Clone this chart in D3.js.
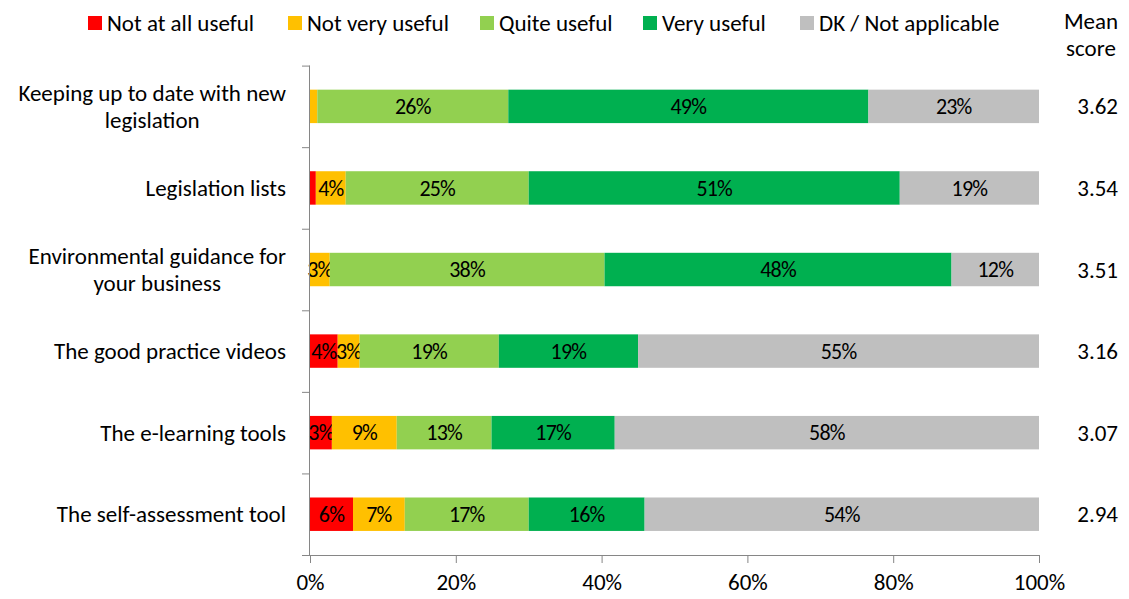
<!DOCTYPE html>
<html>
<head>
<meta charset="utf-8">
<script src="https://cdn.jsdelivr.net/npm/d3@7"></script>
<style>
  body { margin: 0; background: #fff; }
  svg text { font-family: Carlito, Calibri, Lato, sans-serif; fill: #000; }
</style>
</head>
<body>
<svg id="chart" width="1129" height="599"></svg>
<script>
// category labels (lines as wrapped in the original)
const categories = [
    ["Keeping up to date with new", "legislation"],
    ["Legislation lists"],
    ["Environmental guidance for", "your business"],
    ["The good practice videos"],
    ["The e-learning tools"],
    ["The self-assessment  tool"]
];
const seriesNames = ["Not at all useful", "Not very useful", "Quite useful", "Very useful", "DK / Not applicable"];
const seriesColors = ["#ff0000", "#ffc000", "#92d050", "#00b050", "#bfbfbf"];

// percentages per series, one value per category
const notAtAll = [0, 0.8, 0, 3.8, 3.0, 5.9];
const notVery  = [1.0, 4.1, 2.7, 3.0, 8.9, 7.1];
const quite    = [26.2, 25.1, 37.7, 19.1, 13.0, 17.0];
const very     = [49.4, 50.9, 47.6, 19.1, 16.9, 15.9];
const dk       = [23.4, 19.1, 12.0, 55.0, 58.2, 54.1];

const meanScores = ["3.62", "3.54", "3.51", "3.16", "3.07", "2.94"];
const xTicks = [0, 20, 40, 60, 80, 100];

const svg = d3.select("#chart");
const fontSize = 23;

const x = d3.scaleLinear().domain([0, 100]).range([310, 1039]);
const y = d3.scaleBand()
    .domain(d3.range(categories.length))
    .range([65.6, 555])
    .paddingInner(0.59)
    .paddingOuter(0.295);

const seriesValues = [notAtAll, notVery, quite, very, dk];
const rows = categories.map((c, i) => {
    const r = { i };
    seriesValues.forEach((s, k) => r[k] = s[i]);
    return r;
});
const stacked = d3.stack().keys(d3.range(seriesNames.length))(rows);

// bars
const layers = svg.append("g").selectAll("g")
    .data(stacked)
    .enter()
    .append("g")
    .attr("fill", (d, k) => seriesColors[k]);

layers.selectAll("rect")
    .data(d => d)
    .enter()
    .append("rect")
    .attr("x", d => x(d[0]))
    .attr("y", d => y(d.data.i))
    .attr("width", d => x(d[1]) - x(d[0]))
    .attr("height", y.bandwidth());

// value labels (tight spacing, the small ones sit next to each other)
layers.selectAll("text")
    .data(d => d.filter(p => p[1] - p[0] >= 2.5))
    .enter()
    .append("text")
    .attr("x", d => (x(d[0]) + x(d[1])) / 2)
    .attr("y", d => y(d.data.i) + y.bandwidth() / 2)
    .attr("dy", "0.35em")
    .attr("text-anchor", "middle")
    .attr("font-size", 22)
    .attr("letter-spacing", -0.8)
    .text(d => Math.round(d[1] - d[0]) + "%");

// x axis
const xAxis = svg.append("g")
    .attr("transform", "translate(0,555)")
    .call(d3.axisBottom(x).tickValues(xTicks).tickSize(8).tickPadding(11).tickFormat(d => d + "%"));
xAxis.selectAll("text").attr("font-size", fontSize).attr("font-family", null);
xAxis.select(".domain").attr("d", "M302,0.5H1039").attr("stroke", "#868686");
xAxis.selectAll(".tick line").attr("stroke", "#868686");

// y axis: ticks at category boundaries
const yEdges = d3.scaleLinear().domain([0, categories.length]).range([65.6, 555]);
const yAxis = svg.append("g")
    .attr("transform", "translate(310,0)")
    .call(d3.axisLeft(yEdges).tickValues(d3.range(categories.length + 1)).tickSize(8).tickFormat(""));
yAxis.select(".domain").attr("d", "M-0.5,65.6V555").attr("stroke", "#868686");
yAxis.selectAll(".tick line").attr("stroke", "#868686");

// category labels
const labelRight = 286;
const lineH = 27;
categories.forEach((lines, i) => {
    const cy = y(i) + y.bandwidth() / 2;
    const g = svg.append("g");
    const texts = lines.map((t, j) => g.append("text")
        .attr("font-size", fontSize)
        .attr("y", cy + (j - (lines.length - 1) / 2) * lineH)
        .attr("dy", "0.35em")
        .attr("text-anchor", "middle")
        .text(t));
    const w = d3.max(texts, t => t.node().getComputedTextLength());
    texts.forEach(t => t.attr("x", labelRight - w / 2));
});

// mean scores
svg.append("g").selectAll("text")
    .data(meanScores)
    .enter()
    .append("text")
    .attr("x", 1118)
    .attr("y", (d, i) => y(i) + y.bandwidth() / 2)
    .attr("dy", "0.35em")
    .attr("text-anchor", "end")
    .attr("font-size", fontSize)
    .text(d => d);

svg.append("text")
    .attr("x", 1091).attr("y", 21).attr("dy", "0.35em")
    .attr("text-anchor", "middle").attr("font-size", fontSize)
    .text("Mean");
svg.append("text")
    .attr("x", 1091).attr("y", 48).attr("dy", "0.35em")
    .attr("text-anchor", "middle").attr("font-size", fontSize)
    .text("score");

// legend
const legendX = [88, 288, 480, 643, 800];
const legend = svg.append("g").selectAll("g")
    .data(seriesNames)
    .enter()
    .append("g")
    .attr("transform", (d, k) => `translate(${legendX[k]},16)`);
legend.append("rect")
    .attr("width", 14).attr("height", 14)
    .attr("fill", (d, k) => seriesColors[k]);
legend.append("text")
    .attr("x", 19).attr("y", 7).attr("dy", "0.35em")
    .attr("font-size", fontSize)
    .text(d => d);
</script>
</body>
</html>
